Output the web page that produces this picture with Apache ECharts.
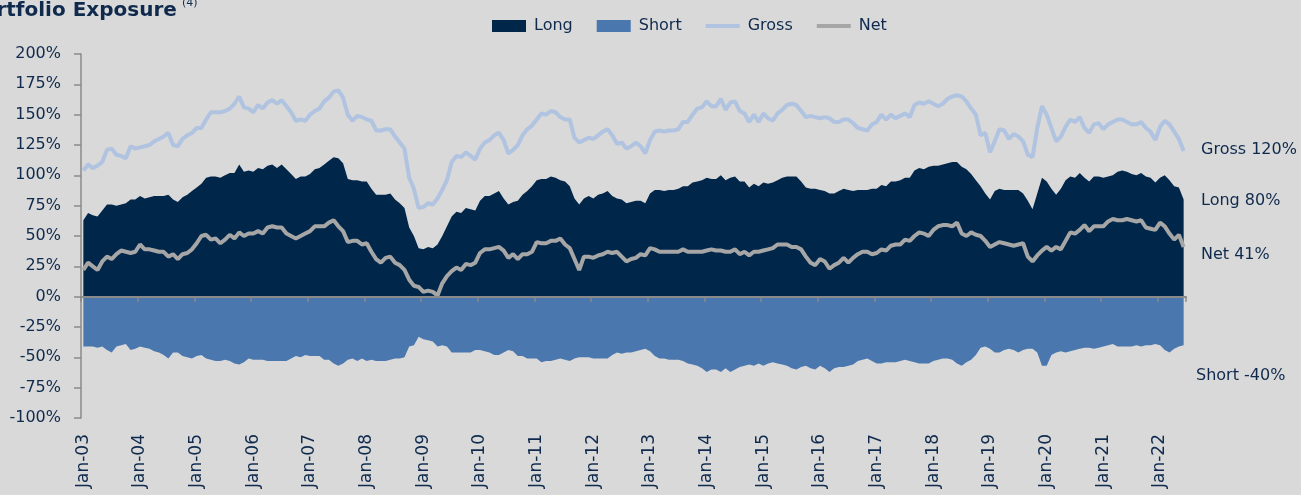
<!DOCTYPE html>
<html>
<head>
<meta charset="utf-8">
<script src="https://cdn.jsdelivr.net/npm/echarts@6/dist/echarts.min.js"></script>
<style>
  html, body { margin: 0; padding: 0; background: #d9d9d9; }
  #chart { width: 1301px; height: 495px; }
</style>
</head>
<body>
<div id="chart"></div>
<script>
// monthly, Jan-03 .. Jun-22
var years = ['03','04','05','06','07','08','09','10','11','12','13','14','15','16','17','18','19','20','21','22'];
var monthNames = ['Jan','Feb','Mar','Apr','May','Jun','Jul','Aug','Sep','Oct','Nov','Dec'];
var lastYearMonths = 6;

var longExp = [
  63,69,67,66,71,76,76,75,76,77, 80,80,83,81,82,83,83,83,84,80,
  78,82,84,87,90,93,98,99,99,98, 100,102,102,109,103,104,103,106,105,108,
  109,106,109,105,101,97,99,99,101,105, 106,109,112,115,114,110,97,96,96,95,
  95,89,84,84,84,85,80,77,73,57, 50,40,39,41,40,43,50,58,66,70,
  69,73,72,71,79,83,83,85,87,81, 76,78,79,84,87,91,96,97,97,99,
  98,96,95,91,81,76,81,83,81,84, 85,87,83,81,80,77,78,79,79,77,
  85,88,88,87,88,88,89,91,91,94, 95,96,98,97,97,100,96,98,99,95,
  95,90,93,91,94,93,94,96,98,99, 99,99,95,90,89,89,88,87,85,85,
  87,89,88,87,88,88,88,89,89,92, 91,95,95,96,98,98,104,106,105,107,
  108,108,109,110,111,111,107,105,101,96, 91,85,80,87,89,88,88,88,88,85,
  79,72,85,98,95,89,84,89,96,99, 98,102,98,95,99,99,98,99,100,103,
  104,103,101,100,102,99,98,94,98,100, 96,91,90,80
];
var shortExp = [
  -41,-41,-41,-42,-41,-44,-46,-41,-40,-39, -44,-43,-41,-42,-43,-45,-46,-48,-51,-46,
  -46,-49,-50,-51,-49,-48,-51,-52,-53,-53, -52,-53,-55,-56,-54,-51,-52,-52,-52,-53,
  -53,-53,-53,-53,-51,-49,-50,-48,-49,-49, -49,-52,-52,-55,-57,-55,-52,-51,-53,-51,
  -53,-52,-53,-53,-53,-52,-51,-51,-50,-41, -40,-33,-35,-36,-37,-41,-40,-41,-46,-46,
  -46,-46,-46,-44,-44,-45,-46,-48,-48,-46, -44,-45,-49,-49,-51,-51,-51,-54,-53,-53,
  -52,-51,-52,-53,-51,-50,-50,-50,-51,-51, -51,-51,-48,-46,-47,-46,-46,-45,-44,-43,
  -45,-49,-51,-51,-52,-52,-52,-53,-55,-56, -57,-59,-62,-60,-60,-62,-59,-62,-60,-58,
  -57,-56,-57,-55,-57,-55,-54,-55,-56,-57, -59,-60,-58,-57,-59,-60,-57,-59,-62,-59,
  -58,-58,-57,-56,-53,-52,-51,-53,-55,-55, -54,-54,-54,-53,-52,-53,-54,-55,-55,-55,
  -53,-52,-51,-51,-52,-55,-57,-54,-52,-48, -42,-41,-43,-46,-46,-44,-43,-44,-46,-44,
  -43,-43,-46,-57,-57,-48,-46,-45,-46,-45, -44,-43,-42,-42,-43,-42,-41,-40,-39,-41,
  -41,-41,-41,-40,-41,-40,-40,-39,-40,-44, -46,-43,-41,-40
];
var grossExp = [
  104,109,106,108,111,121,122,117,116,114, 124,122,123,124,125,128,130,132,135,125,
  124,130,133,135,139,139,146,152,152,152, 153,155,159,165,156,155,152,158,155,160,
  162,159,162,157,152,145,146,145,150,153, 155,161,164,169,170,164,150,145,149,148,
  146,145,137,137,138,138,132,127,122,98, 89,73,74,77,76,81,88,96,111,116,
  115,119,116,113,122,127,129,133,135,129, 118,121,125,133,138,141,146,151,150,153,
  152,148,146,146,131,127,129,131,130,133, 136,138,133,126,127,122,124,127,124,118,
  129,136,137,136,137,137,138,144,144,150, 155,156,161,157,157,163,154,160,161,153,
  151,144,150,144,151,147,145,151,154,158, 159,158,153,148,149,148,147,148,147,144,
  144,146,146,143,139,138,137,142,144,150, 146,150,147,149,151,148,158,160,159,161,
  159,157,159,163,165,166,165,161,155,150, 133,135,119,128,138,137,130,134,132,128,
  117,115,139,157,150,139,128,132,140,146, 144,148,139,135,142,143,138,142,144,146,
  146,144,142,142,144,139,136,129,140,145, 142,136,130,120
];
var netExp = [
  22,28,25,22,29,33,31,35,38,37, 36,37,43,39,39,38,37,37,33,35,
  31,35,36,39,44,50,51,47,48,44, 47,51,48,53,50,52,52,54,52,57,
  58,57,57,52,50,48,50,52,54,58, 58,58,61,63,58,54,45,46,46,43,
  44,37,31,28,32,33,28,26,22,14, 9,8,4,5,4,1,11,17,21,24,
  22,27,26,28,36,39,39,40,41,38, 32,35,31,35,35,37,45,44,44,46,
  46,48,43,40,31,22,33,33,32,34, 35,37,36,37,33,29,31,32,35,34,
  40,39,37,37,37,37,37,39,37,37, 37,37,38,39,38,38,37,37,39,35,
  37,34,37,37,38,39,40,43,43,43, 41,41,39,33,28,26,31,29,23,26,
  28,32,28,32,35,37,37,35,36,39, 38,42,43,43,47,46,50,53,52,50,
  55,58,59,59,58,61,52,50,53,51, 50,46,41,43,45,44,43,42,43,44,
  33,29,34,38,41,38,41,39,46,53, 52,55,59,54,58,58,58,62,64,63,
  63,64,63,62,63,57,56,55,61,58, 52,47,51,41
];

var months = [];
years.forEach(function (y, yi) {
    var n = (yi === years.length - 1) ? lastYearMonths : 12;
    for (var m = 0; m < n; m++) months.push(monthNames[m] + '-' + y);
});

var navy = '#0f2a4d';
var font = 'DejaVu Sans';
var colLong = '#00264a', colShort = '#4a77ae', colGross = '#b0c3e0', colNet = '#a6a6a6';
var last = function (a) { return a[a.length - 1]; };
// thin bar inside a 34x12 box, for the line entries of the legend
var lineIcon = 'path://M0,0L0,0M0,4L34,4L34,8L0,8ZM0,12L0,12';

var myChart = echarts.init(document.getElementById('chart'));
var option = {
    backgroundColor: '#d9d9d9',
    animation: false,
    textStyle: { fontFamily: font },
    legend: {
        left: 487,
        top: 13,
        itemWidth: 34,
        itemHeight: 12,
        itemGap: 24,
        textStyle: { color: navy, fontSize: 16, fontFamily: font, padding: [0, 0, 0, 3] },
        data: [
            { name: 'Long', icon: 'rect', itemStyle: { color: colLong, borderWidth: 0 } },
            { name: 'Short', icon: 'rect', itemStyle: { color: colShort, borderWidth: 0 } },
            { name: 'Gross', icon: lineIcon, itemStyle: { color: colGross, borderWidth: 0 } },
            { name: 'Net', icon: lineIcon, itemStyle: { color: colNet, borderWidth: 0 } }
        ]
    },
    grid: { left: 81, right: 115, top: 54, bottom: 77 },
    xAxis: [{
        type: 'category',
        data: months,
        boundaryGap: true,
        z: 5,
        axisLine: { onZero: true, lineStyle: { color: '#8a8a8a', width: 2 } },
        axisTick: { show: true, interval: 11, length: 5, lineStyle: { color: '#8a8a8a', width: 1.5 } },
        axisLabel: { show: false },
        splitLine: { show: false }
    }, {
        type: 'category',
        data: months,
        position: 'bottom',
        boundaryGap: true,
        axisLine: { show: false },
        axisTick: { show: false },
        axisLabel: { interval: 11, rotate: 90, margin: 16, color: navy, fontSize: 17, fontFamily: font },
        splitLine: { show: false }
    }],
    yAxis: {
        type: 'value',
        min: -100,
        max: 200,
        interval: 25,
        axisLine: { show: true, lineStyle: { color: '#8a8a8a', width: 1.5 } },
        axisTick: { show: true, length: 7, lineStyle: { color: '#8a8a8a', width: 1.5 } },
        axisLabel: { formatter: '{value}%', color: navy, fontSize: 16, margin: 20, fontFamily: font },
        splitLine: { show: false }
    },
    series: [{
        name: 'Long', type: 'line', data: longExp, symbol: 'none',
        itemStyle: { color: colLong },
        lineStyle: { width: 0, opacity: 0 },
        areaStyle: { color: colLong, opacity: 1 }
    }, {
        name: 'Short', type: 'line', data: shortExp, symbol: 'none',
        itemStyle: { color: colShort },
        lineStyle: { width: 0, opacity: 0 },
        areaStyle: { color: colShort, opacity: 1 }
    }, {
        name: 'Gross', type: 'line', data: grossExp, symbol: 'none',
        itemStyle: { color: colGross },
        lineStyle: { color: colGross, width: 4 }
    }, {
        name: 'Net', type: 'line', data: netExp, symbol: 'none',
        itemStyle: { color: colNet },
        lineStyle: { color: colNet, width: 4 }
    }],
    graphic: [
        { type: 'text', x: -32, y: 11, style: { text: 'Portfolio Exposure', fill: navy, font: 'bold 20px DejaVu Sans', verticalAlign: 'middle' } },
        { type: 'text', x: 182, y: 3, style: { text: '(4)', fill: navy, font: '11px DejaVu Sans', verticalAlign: 'middle' } },
        { type: 'text', x: 1201, y: 150, style: { text: 'Gross ' + last(grossExp) + '%', fill: navy, font: '16px DejaVu Sans', verticalAlign: 'middle' } },
        { type: 'text', x: 1201, y: 201, style: { text: 'Long ' + last(longExp) + '%', fill: navy, font: '16px DejaVu Sans', verticalAlign: 'middle' } },
        { type: 'text', x: 1201, y: 255, style: { text: 'Net ' + last(netExp) + '%', fill: navy, font: '16px DejaVu Sans', verticalAlign: 'middle' } },
        { type: 'text', x: 1196, y: 376, style: { text: 'Short ' + last(shortExp) + '%', fill: navy, font: '16px DejaVu Sans', verticalAlign: 'middle' } }
    ]
};
myChart.setOption(option);
</script>
</body>
</html>
